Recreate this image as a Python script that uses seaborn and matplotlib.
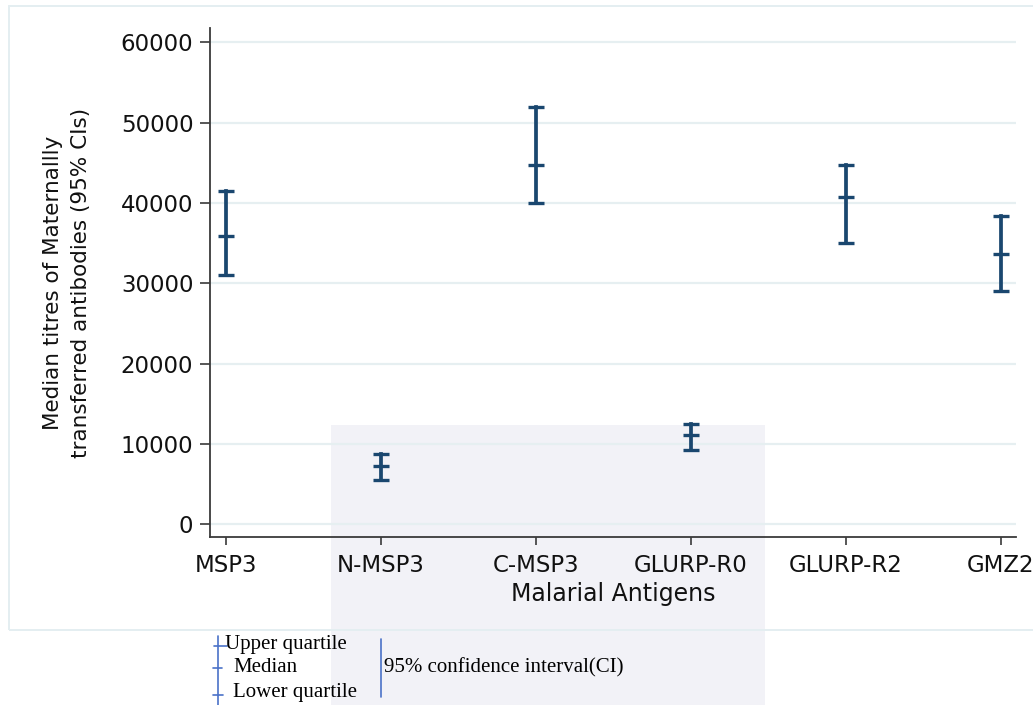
import numpy as np
import pandas as pd
import matplotlib
matplotlib.use("Agg")
import matplotlib.pyplot as plt
from matplotlib.lines import Line2D
from matplotlib.patches import Rectangle
import seaborn as sns

# ---- data ----
antigens = ["MSP3", "N-MSP3", "C-MSP3", "GLURP-R0", "GLURP-R2", "GMZ2"]
lower_q = [31100, 5500, 40000, 9200, 35000, 29100]
median_v = [35900, 7300, 44700, 11100, 40700, 33700]
upper_q = [41500, 8800, 52000, 12450, 44750, 38400]
y_ticks = [0, 10000, 20000, 30000, 40000, 50000, 60000]

rows = []
for a, lo, me, up in zip(antigens, lower_q, median_v, upper_q):
    rows += [(a, "lower", lo), (a, "median", me), (a, "upper", up)]
df = pd.DataFrame(rows, columns=["antigen", "stat", "value"])

sns.set_theme(style="ticks")
plt.rcParams["font.family"] = ["DejaVu Sans"]

W, H = 1033, 705
fig = plt.figure(figsize=(W / 100, H / 100), dpi=100)
fig.patch.set_facecolor("white")

def fx(px):
    return px / W

def fy(py):
    return 1 - py / H

# faint watermark patch (behind the plot contents)
fig.add_artist(Rectangle((fx(331), fy(705)), fx(765) - fx(331), fy(425) - fy(705),
                         transform=fig.transFigure, facecolor="#d0d0e4",
                         edgecolor="none", alpha=0.27, zorder=-5))

ax = fig.add_axes([fx(210), fy(537), fx(1016) - fx(210), fy(28) - fy(537)])
ax.set_facecolor("none")

navy = "#1a476f"
sns.lineplot(data=df, x="antigen", y="value", units="antigen", estimator=None,
             sort=False, color=navy, linewidth=2.7, ax=ax, legend=False)
for ln in ax.lines:
    ln.set_solid_capstyle("projecting")
sns.scatterplot(data=df, x="antigen", y="value", marker="_", s=120,
                linewidth=2.4, color=navy, ax=ax, legend=False, zorder=4)

ax.set_xlim(-0.103, 5.10)
ax.set_ylim(-1580, 61800)
ax.set_yticks(y_ticks)
ax.set_yticklabels([str(v) for v in y_ticks])
ax.set_xticks(range(len(antigens)))
ax.set_xticklabels(antigens)

ax.yaxis.grid(True, color="#e6eff1", linewidth=1.6)
ax.xaxis.grid(False)
ax.set_axisbelow(True)

for s in ["top", "right"]:
    ax.spines[s].set_visible(False)
for s in ["left", "bottom"]:
    ax.spines[s].set_color("#3a3a3a")
    ax.spines[s].set_linewidth(1.3)

ax.tick_params(axis="y", length=7, width=1.2, color="#3a3a3a", pad=5,
               labelsize=16.5, labelcolor="#111111")
ax.tick_params(axis="x", length=6, width=1.2, color="#3a3a3a", pad=6,
               labelsize=16.5, labelcolor="#111111")

ax.set_xlabel("Malarial Antigens", fontsize=17, color="#111111", labelpad=4)
ax.set_ylabel("Median titres of Maternallly\ntransferred antibodies (95% CIs)",
              fontsize=15.5, color="#111111", va="center", linespacing=1.45)
ax.yaxis.set_label_coords((67 - 210) / (1016 - 210), 0.5)

# outer graph region border
fig.add_artist(Rectangle((fx(9), fy(630)), 1.2, fy(6) - fy(630),
                         transform=fig.transFigure, fill=False,
                         edgecolor="#e4eef1", linewidth=1.4, zorder=-4))

# key below the chart
blue = "#4a72c8"
serif = ["Liberation Serif", "DejaVu Serif"]
fig.add_artist(Line2D([fx(218), fx(218)], [fy(636), fy(705)], color=blue, lw=1.2))
fig.add_artist(Line2D([fx(214), fx(227)], [fy(646), fy(646)], color=blue, lw=1.2))
fig.add_artist(Line2D([fx(213), fx(222)], [fy(668), fy(668)], color=blue, lw=1.2))
fig.add_artist(Line2D([fx(213), fx(223)], [fy(695), fy(695)], color=blue, lw=1.2))
fig.add_artist(Line2D([fx(381), fx(381)], [fy(639), fy(697)], color=blue, lw=1.2))
fig.text(fx(225), fy(645), "Upper quartile", family=serif, fontsize=15,
         va="center", ha="left", color="black")
fig.text(fx(233), fy(668), "Median", family=serif, fontsize=15,
         va="center", ha="left", color="black")
fig.text(fx(233), fy(693), "Lower quartile", family=serif, fontsize=15,
         va="center", ha="left", color="black")
fig.text(fx(384), fy(668), "95% confidence interval(CI)", family=serif,
         fontsize=15, va="center", ha="left", color="black")

fig.savefig("out.png", dpi=100)
